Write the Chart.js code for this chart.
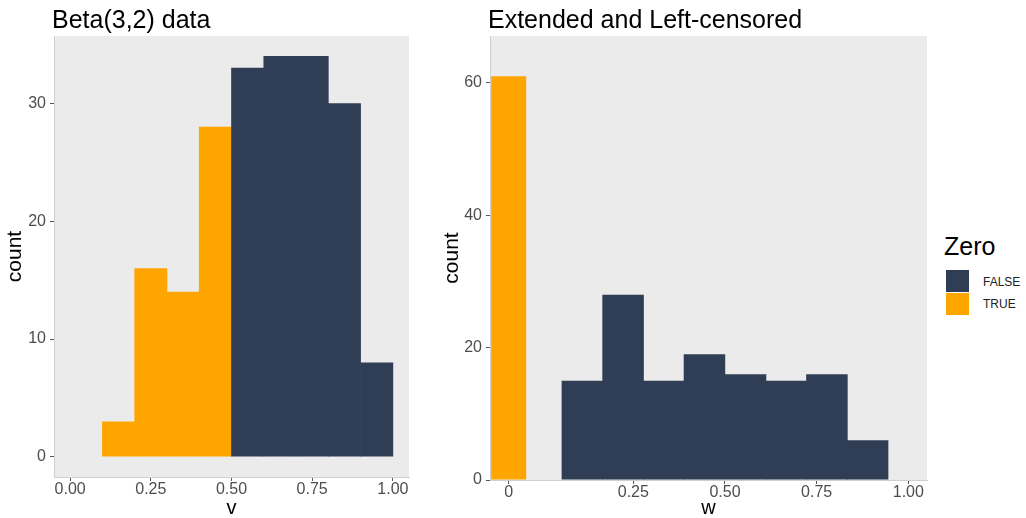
<!DOCTYPE html>
<html>
<head>
<meta charset="utf-8">
<script src="https://cdn.jsdelivr.net/npm/chart.js@4.4.1/dist/chart.umd.min.js"></script>
<style>
  body { margin: 0; background: #fff; width: 1026px; height: 518px; position: relative; overflow: hidden;
         font-family: "Liberation Sans", Arial, sans-serif; }
  #betaChart { position: absolute; left: 0; top: 0; }
  #censChart { position: absolute; left: 430px; top: 0; }
  .legend-title { position: absolute; left: 944px; top: 234px; font-size: 25px; line-height: 25px; color: #000; }
  .key { position: absolute; left: 946px; width: 23px; height: 22px; }
  .key-label { position: absolute; left: 983px; font-size: 12px; line-height: 12px; color: #222; }
</style>
</head>
<body>
<canvas id="betaChart" width="420" height="518"></canvas>
<canvas id="censChart" width="500" height="518"></canvas>

<div class="legend-title">Zero</div>
<div class="key" style="top:270px;background:#2F3E55"></div>
<div class="key" style="top:293px;background:#FFA500"></div>
<div class="key-label" style="top:276px">FALSE</div>
<div class="key-label" style="top:298px">TRUE</div>

<script>
// Beta(3,2) histogram: bin midpoints and counts
const vTrueMids = [0.15, 0.25, 0.35, 0.45];
const vTrueCounts = [3, 16, 14, 28];
const vFalseMids = [0.55, 0.65, 0.75, 0.85, 0.95];
const vFalseCounts = [33, 34, 34, 30, 8];
const vTicks = [0, 0.25, 0.5, 0.75, 1];
const vCountTicks = [0, 10, 20, 30];

// Extended and left-censored histogram
const wTrueMids = [-0.09];
const wTrueCounts = [61];
const wFalseMids = [0.111, 0.222, 0.333, 0.444, 0.556, 0.667, 0.778, 0.889];
const wFalseCounts = [15, 28, 15, 19, 16, 15, 16, 6];
const wTicks = [-0.09, 0.25, 0.5, 0.75, 1];
const wTickLabels = ['0', '0.25', '0.50', '0.75', '1.00'];
const wCountTicks = [0, 20, 40, 60];

const DARK = '#2F3E55';
const ORANGE = '#FFA500';
const FONT = '"Liberation Sans", Arial, sans-serif';

// grey panel behind the bars + plot title aligned with the panel
const panelPlugin = {
    id: 'panel',
    beforeDraw(chart) {
        const a = chart.chartArea, ctx = chart.ctx;
        ctx.save();
        ctx.fillStyle = '#EBEBEB';
        ctx.fillRect(a.left, a.top, a.right - a.left, a.bottom - a.top);
        ctx.restore();
    },
    afterDraw(chart, args, opts) {
        const ctx = chart.ctx;
        ctx.save();
        ctx.font = '25px ' + FONT;
        ctx.fillStyle = '#000';
        ctx.textBaseline = 'alphabetic';
        ctx.fillText(opts.text, chart.chartArea.left - 2, 27.5);
        ctx.restore();
    }
};

function toPoints(xs, ys) {
    return xs.map((x, i) => ({ x: x, y: ys[i] }));
}

function makeHist(id, cfg) {
    return new Chart(document.getElementById(id), {
        type: 'bar',
        data: {
            datasets: [
                {
                    label: 'FALSE',
                    data: toPoints(cfg.falseMids, cfg.falseCounts),
                    backgroundColor: DARK,
                    borderWidth: 0,
                    barPercentage: 1.02, // tiny overlap hides anti-aliasing seams
                    categoryPercentage: 1
                },
                {
                    label: 'TRUE',
                    data: toPoints(cfg.trueMids, cfg.trueCounts),
                    backgroundColor: ORANGE,
                    borderWidth: 0,
                    barPercentage: cfg.trueWidth,
                    categoryPercentage: 1
                }
            ]
        },
        options: {
            responsive: false,
            animation: false,
            layout: { padding: { top: 36, right: cfg.padRight, left: 0, bottom: 0 } },
            plugins: {
                legend: { display: false },
                tooltip: { enabled: false },
                panel: { text: cfg.title }
            },
            scales: {
                x: {
                    type: 'linear',
                    stacked: true,
                    offset: false,
                    min: cfg.xMin,
                    max: cfg.xMax,
                    afterBuildTicks: ax => { ax.ticks = cfg.xTicks.map(v => ({ value: v })); },
                    afterFit: ax => { ax.height = cfg.xAxisHeight; },
                    grid: { display: true, offset: false, drawOnChartArea: false, drawTicks: true, tickLength: 4, color: '#555' },
                    border: { display: true, color: '#CFCFCF', width: 1 },
                    ticks: {
                        autoSkip: false, maxRotation: 0, padding: 1,
                        color: '#4D4D4D',
                        font: { family: FONT, size: 16, lineHeight: 1 },
                        callback: cfg.xLabel
                    },
                    title: {
                        display: true, text: cfg.xTitle, color: '#000',
                        font: { family: FONT, size: 20, lineHeight: 1 },
                        padding: { top: 0, bottom: cfg.xTitlePad }
                    }
                },
                y: {
                    stacked: true,
                    min: cfg.yMin,
                    max: cfg.yMax,
                    afterBuildTicks: ax => { ax.ticks = cfg.yTicks.map(v => ({ value: v })); },
                    afterFit: ax => { ax.width = cfg.yAxisWidth; },
                    grid: { display: true, drawOnChartArea: false, drawTicks: true, tickLength: 4, color: '#555' },
                    border: { display: true, color: '#CFCFCF', width: 1 },
                    ticks: {
                        padding: 4,
                        color: '#4D4D4D',
                        font: { family: FONT, size: 16 }
                    },
                    title: {
                        display: true, text: 'count', color: '#000',
                        font: { family: FONT, size: 21, lineHeight: 1.2 },
                        padding: { top: cfg.yTitlePad, bottom: 0 }
                    }
                }
            }
        },
        plugins: [panelPlugin]
    });
}

makeHist('betaChart', {
    title: 'Beta(3,2) data',
    trueMids: vTrueMids, trueCounts: vTrueCounts, trueWidth: 1.02,
    falseMids: vFalseMids, falseCounts: vFalseCounts,
    xMin: -0.05, xMax: 1.05, xTicks: vTicks,
    xLabel: v => Number(v).toFixed(2),
    xTitle: 'v', xTitlePad: 0, xAxisHeight: 41,
    yMin: -1.7, yMax: 35.7, yTicks: vCountTicks,
    yAxisWidth: 54, yTitlePad: 3, padRight: 11
});

makeHist('censChart', {
    title: 'Extended and Left-censored',
    trueMids: wTrueMids, trueCounts: wTrueCounts, trueWidth: 0.86,
    falseMids: wFalseMids, falseCounts: wFalseCounts,
    xMin: -0.141, xMax: 1.051, xTicks: wTicks,
    xLabel: (v, i) => wTickLabels[i],
    xTitle: 'w', xTitlePad: 0, xAxisHeight: 38,
    yMin: 0, yMax: 67.1, yTicks: wCountTicks,
    yAxisWidth: 60, yTitlePad: 10, padRight: 3
});
</script>
</body>
</html>
